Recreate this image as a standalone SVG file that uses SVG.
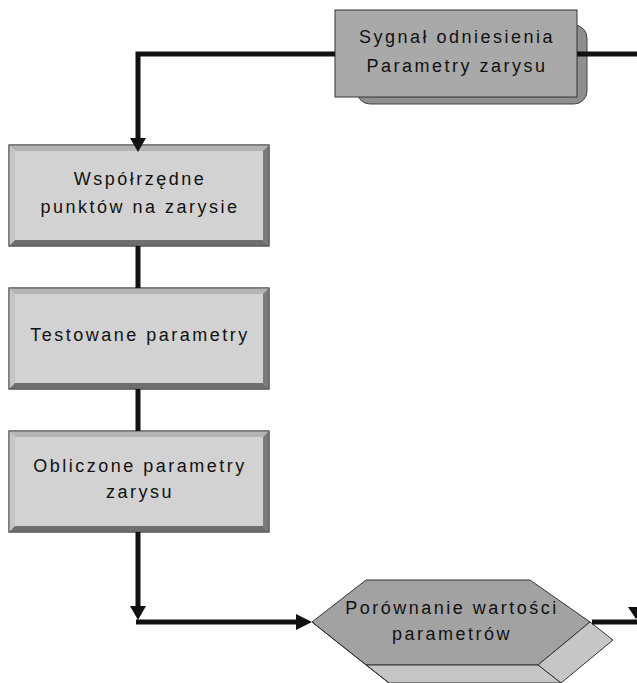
<svg xmlns="http://www.w3.org/2000/svg" width="637" height="683" viewBox="0 0 637 683">
<style>
.t{font-family:"Liberation Sans",Arial,sans-serif;font-size:18px;letter-spacing:2.5px;fill:#111;text-anchor:middle}
.ln{fill:none;stroke:#111;stroke-width:5;stroke-linejoin:miter}
.ah{fill:#111}
.face{fill:#d2d2d2;stroke:#555;stroke-width:1}
.bt{fill:#b4b4b4}.bl{fill:#c6c6c6}.br{fill:#7a7a7a}.bb{fill:#6e6e6e}
</style>
<defs>
<g id="bevel">
<rect class="face" x="0" y="0" width="260" height="101"/>
<polygon class="bt" points="0,0 260,0 254,6 6,6"/>
<polygon class="bl" points="0,0 6,6 6,95 0,101"/>
<polygon class="br" points="260,0 260,101 254,95 254,6"/>
<polygon class="bb" points="0,101 260,101 254,95 6,95"/>
<rect x="0" y="0" width="260" height="101" fill="none" stroke="#555" stroke-width="1"/>
</g>
</defs>
<rect width="637" height="683" fill="#fff"/>
<g id="n_ref">
<rect x="357" y="25" width="230" height="79" rx="13" fill="#8e8e8e" stroke="#444" stroke-width="1"/>
<rect x="335" y="10" width="242" height="87" fill="#a9a9a9" stroke="#333" stroke-width="1"/>
<text class="t" x="457" y="43">Sygnał odniesienia</text>
<text class="t" x="457" y="72">Parametry zarysu</text>
</g>
<g id="n_coord">
<use href="#bevel" x="9" y="145"/>
<text class="t" x="140" y="185">Współrzędne</text>
<text class="t" x="140" y="213">punktów na zarysie</text>
</g>
<g id="n_test">
<use href="#bevel" x="9" y="288"/>
<text class="t" x="140" y="341">Testowane parametry</text>
</g>
<g id="n_calc">
<use href="#bevel" x="9" y="431"/>
<text class="t" x="140" y="472">Obliczone parametry</text>
<text class="t" x="140" y="498">zarysu</text>
</g>
<g id="n_cmp">
<polygon points="312,622 366,580 530,580 590,622 538,665 366,665" fill="#a2a2a2" stroke="#333" stroke-width="1"/>
<polygon points="590,622 613,640 561,683 538,665" fill="#c6c6c6" stroke="#333" stroke-width="1"/>
<polygon points="366,665 538,665 561,683 389,683" fill="#c6c6c6" stroke="#333" stroke-width="1"/>
<line x1="312" y1="622" x2="389" y2="683" stroke="#333" stroke-width="1"/>
<text class="t" x="452" y="614">Porównanie wartości</text>
<text class="t" x="452" y="640">parametrów</text>
</g>
<g id="connectors">
<polyline class="ln" points="335,54 138,54 138,140"/>
<polygon class="ah" points="130,138 146,138 138,152"/>
<line class="ln" x1="577" y1="54" x2="637" y2="54"/>
<line class="ln" x1="138" y1="246" x2="138" y2="288"/>
<line class="ln" x1="138" y1="389" x2="138" y2="431"/>
<line class="ln" x1="138" y1="532" x2="138" y2="608"/>
<polygon class="ah" points="130,606 146,606 138,620"/>
<line class="ln" x1="136" y1="622" x2="298" y2="622"/>
<polygon class="ah" points="296,614 296,630 312,622"/>
<line class="ln" x1="592" y1="622" x2="637" y2="622"/>
<polygon class="ah" points="628,607 644,607 636,619"/>
</g>
</svg>
